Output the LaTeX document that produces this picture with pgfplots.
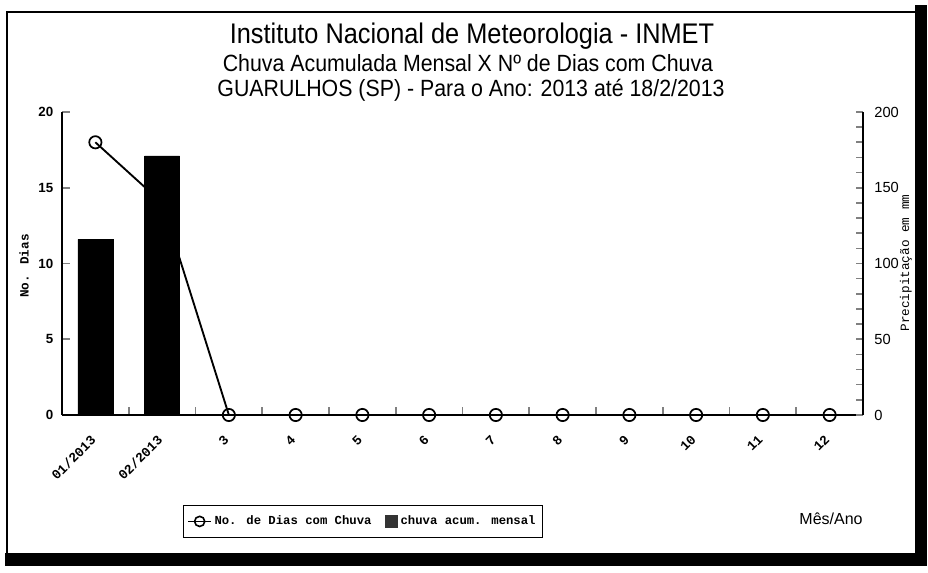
\documentclass[border=0pt]{standalone}
\usepackage{pgfplots}
\pgfplotsset{compat=1.18}
\usepackage{fontspec}
\setmainfont{Liberation Sans}
\newfontfamily\mono{Liberation Mono}
\begin{document}
\begin{tikzpicture}[x=0.75pt,y=0.75pt]
\useasboundingbox (0,0) rectangle (928,573);
% frame (pixel coords, y up)
\draw[line width=1.3pt] (7,20) -- (7,561) -- (915,561);
\fill[black] (915,7) rectangle (927,568);
\fill[black] (5,7) rectangle (927,20);
% titles
\node[anchor=base, inner sep=0pt] at (472,529) {\scalebox{1}[1.12]{\fontsize{19}{22}\selectfont Instituto Nacional de Meteorologia - INMET}};
\node[anchor=base, inner sep=0pt] at (468,501) {\scalebox{1}[1.1]{\fontsize{16}{18}\selectfont Chuva Acumulada Mensal X Nº de Dias com Chuva}};
\node[anchor=base, inner sep=0pt] at (471,476) {\scalebox{1}[1.1]{\fontsize{16}{18}\selectfont GUARULHOS (SP) - Para o Ano: 2013 até 18/2/2013}};
\node[anchor=base, inner sep=0pt] at (831,48) {\fontsize{12}{14}\selectfont Mês/Ano};
\node[rotate=90, inner sep=0pt] at (24,307) {\mono\bfseries\fontsize{9.5}{11}\selectfont No. Dias};
\node[rotate=90, inner sep=0pt] at (906,310) {\mono\fontsize{9.5}{11}\selectfont Precipitação em mm};
% days axis
\begin{axis}[
  at={(46.5pt,118.5pt)}, anchor=south west,
  scale only axis, width=600.75pt, height=227.25pt,
  xmin=0.5, xmax=12.5, ymin=0, ymax=20,
  axis y line*=left, axis x line*=bottom,
  axis line style={line width=1.4pt, -},
  xtick={1,...,12},
  xticklabels={01/2013,02/2013,3,4,5,6,7,8,9,10,11,12},
  minor xtick={1.5,2.5,...,11.5},
  major x tick style={draw=none},
  minor x tick style={line width=1.2pt},
  minor tick length=6pt,
  ytick={0,5,...,20},
  y tick style={line width=1.2pt},
  major tick length=6pt,
  tick align=inside,
  /pgf/number format/assume math mode=true,
  x tick label style={font=\mono\bfseries\fontsize{10}{11}\selectfont, rotate=45, anchor=north east, inner sep=0pt, xshift=-13pt, yshift=-7pt},
  y tick label style={font=\bfseries\fontsize{10}{12}\selectfont, xshift=-3pt},
  clip=false,
]
\addplot[black, line width=1.4pt, mark=o, mark size=4.6pt, mark options={line width=1.3pt, fill=none}]
  coordinates {(1,18) (2,14) (3,0) (4,0) (5,0) (6,0) (7,0) (8,0) (9,0) (10,0) (11,0) (12,0)};
\end{axis}
% precipitation axis
\begin{axis}[
  at={(46.5pt,118.5pt)}, anchor=south west,
  scale only axis, width=600.75pt, height=227.25pt,
  xmin=0.5, xmax=12.5, ymin=0, ymax=200,
  axis y line*=right, axis x line=none,
  axis line style={line width=1.4pt, -},
  xtick=\empty,
  ytick={0,50,...,200},
  minor ytick={10,20,...,190},
  tick align=inside,
  major tick length=5pt, minor tick length=5pt,
  y tick style={line width=1.2pt},
  /pgf/number format/assume math mode=true,
  y tick label style={font=\fontsize{11}{13}\selectfont, xshift=5pt},
  clip=false,
  legend columns=2,
  legend cell align=left,
  legend style={at={(0.151,-0.2963)}, anchor=north west, draw=black, line width=0.8pt,
    font=\mono\bfseries\fontsize{9.2}{11}\selectfont, inner xsep=3pt, inner ysep=6pt,
    /tikz/every even column/.append style={column sep=8pt}},
]
\addlegendimage{black, line width=1.2pt, mark=o, mark size=3.8pt, mark options={fill=none}}
\addlegendentry{No. de Dias com Chuva}
\addplot[ybar, bar width=26.25pt, fill=black, draw=black,
  legend image code/.code={\fill[black!80] (0pt,-4.5pt) rectangle (9pt,4.5pt);}]
  coordinates {(1,116) (2,171)};
\addlegendentry{chuva acum. mensal}
\end{axis}
\end{tikzpicture}
\end{document}
